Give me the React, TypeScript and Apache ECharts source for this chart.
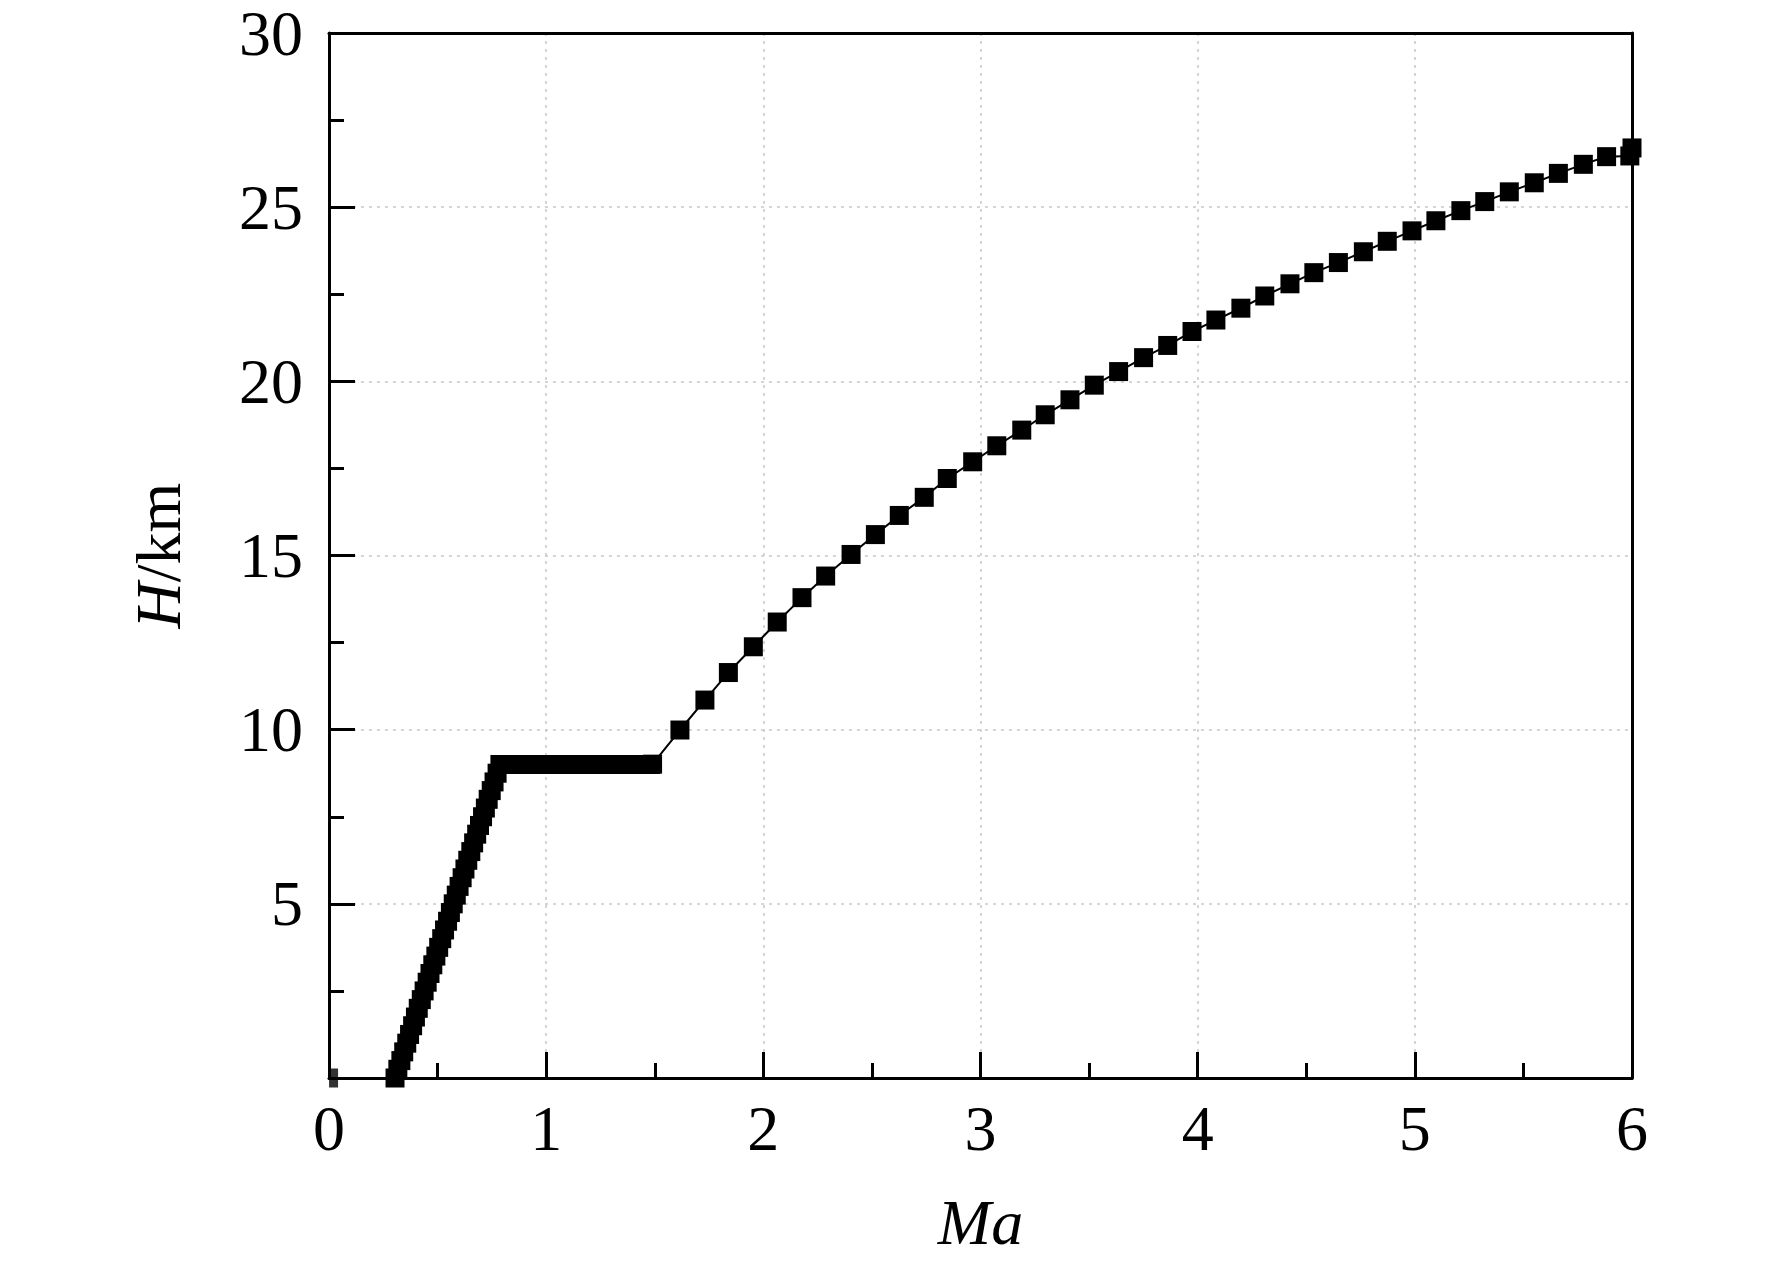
import React, { useEffect, useRef } from "react";
import * as echarts from "echarts";

// Segment 1: dense ramp from ground to 9 km
const rampMa = [
  0.304, 0.317, 0.331, 0.344, 0.358, 0.371, 0.385, 0.398, 0.411, 0.425,
  0.438, 0.452, 0.465, 0.478, 0.492, 0.505, 0.519, 0.532, 0.546, 0.559,
  0.572, 0.586, 0.599, 0.613, 0.626, 0.639, 0.653, 0.666, 0.68, 0.693,
  0.707, 0.72, 0.733, 0.747, 0.76, 0.774, 0.787,
];
const rampH = [
  0, 0.25, 0.5, 0.75, 1.0, 1.25, 1.5, 1.75, 2.0, 2.25,
  2.5, 2.75, 3.0, 3.25, 3.5, 3.75, 4.0, 4.25, 4.5, 4.75,
  5.0, 5.25, 5.5, 5.75, 6.0, 6.25, 6.5, 6.75, 7.0, 7.25,
  7.5, 7.75, 8.0, 8.25, 8.5, 8.75, 9.0,
];

// Segment 2: level flight at 9 km
const flatMa = [
  0.8, 0.82, 0.84, 0.86, 0.88, 0.9, 0.92, 0.94, 0.96, 0.98,
  1.0, 1.02, 1.04, 1.06, 1.08, 1.1, 1.12, 1.14, 1.16, 1.18,
  1.2, 1.22, 1.24, 1.26, 1.28, 1.3, 1.32, 1.34, 1.36, 1.38,
  1.4, 1.42, 1.44, 1.46, 1.48,
];
const flatH = [
  9, 9, 9, 9, 9, 9, 9, 9, 9, 9,
  9, 9, 9, 9, 9, 9, 9, 9, 9, 9,
  9, 9, 9, 9, 9, 9, 9, 9, 9, 9,
  9, 9, 9, 9, 9,
];

// Segment 3: accelerating climb
const climbMa = [
  1.49, 1.616, 1.731, 1.839, 1.954, 2.064, 2.178, 2.287, 2.404, 2.516,
  2.626, 2.741, 2.847, 2.964, 3.075, 3.19, 3.298, 3.412, 3.524, 3.636,
  3.751, 3.862, 3.974, 4.084, 4.199, 4.309, 4.425, 4.535, 4.648, 4.763,
  4.873, 4.987, 5.097, 5.212, 5.322, 5.435, 5.55, 5.661, 5.776, 5.883,
  5.99, 6.0,
];
const climbH = [
  9.01, 9.99, 10.85, 11.64, 12.38, 13.09, 13.79, 14.41, 15.03, 15.6,
  16.15, 16.67, 17.21, 17.69, 18.15, 18.6, 19.04, 19.47, 19.89, 20.28,
  20.68, 21.03, 21.43, 21.76, 22.1, 22.45, 22.8, 23.12, 23.41, 23.72,
  24.02, 24.32, 24.61, 24.9, 25.16, 25.44, 25.7, 25.97, 26.23, 26.45,
  26.47, 26.7,
];

// Small mark at the origin
const originMa = [0.021];
const originH = [0];

// Axis ticks
const xTickValues = [0, 1, 2, 3, 4, 5, 6];
const xTickLabels = ["0", "1", "2", "3", "4", "5", "6"];
const yTickValues = [0, 5, 10, 15, 20, 25, 30];
const yTickLabels = ["", "5", "10", "15", "20", "25", "30"];

const FONT = "'Liberation Serif', 'Times New Roman', serif";

export default function App() {
  const ref = useRef<HTMLDivElement>(null);

  useEffect(() => {
    if (!ref.current) return;
    const chart = echarts.init(ref.current, null, { renderer: "svg" });

    const pts: number[][] = [];
    rampMa.forEach((m, i) => pts.push([m, rampH[i]]));
    flatMa.forEach((m, i) => pts.push([m, flatH[i]]));
    climbMa.forEach((m, i) => pts.push([m, climbH[i]]));
    const origin = originMa.map((m, i) => [m, originH[i]]);

    const labelFor = (vals: number[], labels: string[]) => (v: number) => {
      const idx = vals.findIndex((t) => Math.abs(t - v) < 1e-6);
      return idx >= 0 ? labels[idx] : "";
    };

    const splitStyle = { color: "#c8c8c8", width: 1.5, type: [3, 5] as any };
    const frameAxis = {
      axisLine: { show: true, onZero: false, lineStyle: { color: "#000", width: 3 } },
      axisTick: { show: false },
      axisLabel: { show: false },
      splitLine: { show: false },
    };

    chart.setOption({
      animation: false,
      backgroundColor: "#ffffff",
      grid: {
        left: 329,
        top: 33,
        width: 1303,
        height: 1045,
      },
      xAxis: [
        {
          type: "value",
          min: 0,
          max: 6,
          interval: 1,
          name: "Ma",
          nameLocation: "middle",
          nameGap: 112,
          nameTextStyle: {
            fontFamily: FONT,
            fontSize: 64,
            fontStyle: "italic",
            color: "#000",
          },
          axisLine: { show: true, onZero: false, lineStyle: { color: "#000", width: 3 } },
          axisTick: { show: true, inside: true, length: 26, lineStyle: { color: "#000", width: 3 } },
          minorTick: { show: true, splitNumber: 2, length: 15, lineStyle: { color: "#000", width: 3 } },
          splitLine: { show: true, lineStyle: splitStyle },
          axisLabel: {
            fontFamily: FONT,
            fontSize: 64,
            color: "#000",
            margin: 18,
            formatter: labelFor(xTickValues, xTickLabels),
          },
        },
        { type: "value", position: "top", min: 0, max: 6, interval: 1, ...frameAxis },
      ],
      yAxis: [
        {
          type: "value",
          min: 0,
          max: 30,
          interval: 5,
          name: "{i|H}{n|/km}",
          nameLocation: "middle",
          nameGap: 139,
          nameTextStyle: {
            fontFamily: FONT,
            fontSize: 64,
            color: "#000",
            rich: {
              i: { fontFamily: FONT, fontSize: 64, fontStyle: "italic", color: "#000" },
              n: { fontFamily: FONT, fontSize: 64, color: "#000" },
            },
          },
          axisLine: { show: true, onZero: false, lineStyle: { color: "#000", width: 3 } },
          axisTick: { show: true, inside: true, length: 26, lineStyle: { color: "#000", width: 3 } },
          minorTick: { show: true, splitNumber: 2, length: 15, lineStyle: { color: "#000", width: 3 } },
          splitLine: { show: true, lineStyle: splitStyle },
          axisLabel: {
            fontFamily: FONT,
            fontSize: 64,
            lineHeight: 46,
            color: "#000",
            margin: 26,
            formatter: labelFor(yTickValues, yTickLabels),
          },
        },
        { type: "value", position: "right", min: 0, max: 30, interval: 5, ...frameAxis },
      ],
      series: [
        {
          type: "line",
          data: pts,
          symbol: "rect",
          symbolSize: 19,
          showAllSymbol: true,
          clip: false,
          z: 3,
          itemStyle: { color: "#000" },
          lineStyle: { color: "#000", width: 2 },
        },
        {
          type: "scatter",
          data: origin,
          symbol: "rect",
          symbolSize: [9, 19],
          clip: false,
          z: 4,
          itemStyle: { color: "#000" },
        },
      ],
    });

    return () => chart.dispose();
  }, []);

  return (
    <div
      ref={ref}
      style={{ position: "absolute", left: 0, top: 0, width: 1772, height: 1265, background: "#fff" }}
    />
  );
}
